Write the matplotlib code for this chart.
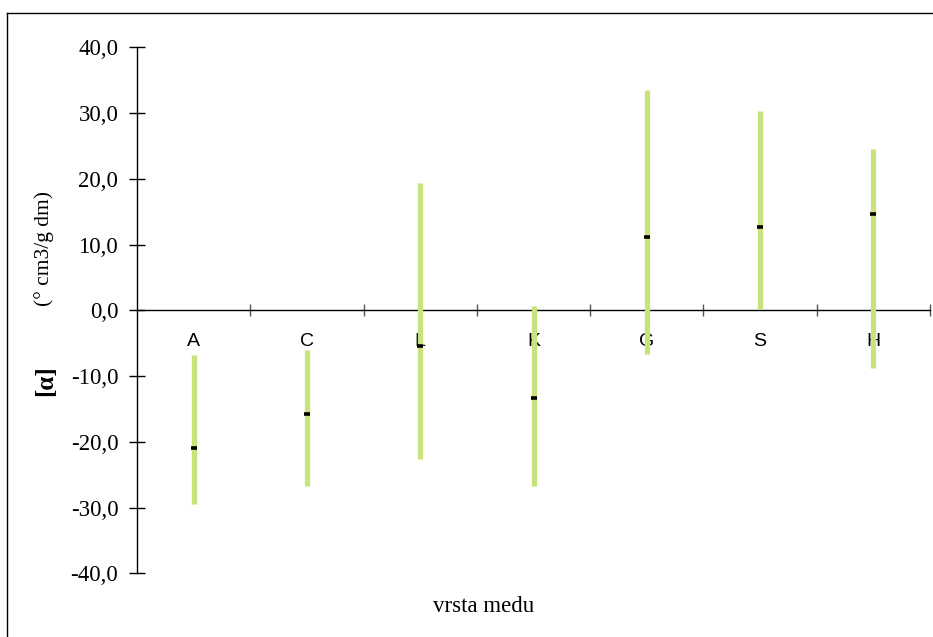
#!/usr/bin/env python3
import matplotlib.pyplot as plt
from matplotlib.lines import Line2D
from matplotlib.ticker import FuncFormatter, FixedLocator

categories = ["A", "C", "L", "K", "G", "S", "H"]
high = [-6.8, -6.0, 19.4, 0.65, 33.5, 30.3, 24.5]
low = [-29.4, -26.7, -22.6, -26.7, -6.6, 0.2, -8.7]
mean = [-20.9, -15.7, -5.4, -13.4, 11.2, 12.7, 14.7]
yticks = [-40, -30, -20, -10, 0, 10, 20, 30, 40]

serif = "Liberation Serif"
sans = "Liberation Sans"
green = "#c9e37b"

fig = plt.figure(figsize=(9.33, 6.37), dpi=100)
ax = fig.add_axes([137 / 933, 0.1, (930 - 137) / 933, 526 / 637])

x = range(len(categories))
for i, c in enumerate(categories):
    ax.text(i, -4.7, c, ha="center", va="center", fontsize=14,
            family=sans, zorder=1)
ax.vlines(x, low, high, color=green, lw=3.8, zorder=3)
ax.plot(x, mean, ls="none", marker="_", ms=5, mew=2.6, color="black", zorder=4)

ax.set_xlim(-0.5, len(categories) - 0.5)
ax.set_ylim(-40, 40)
ax.spines["top"].set_visible(False)
ax.spines["right"].set_visible(False)
ax.spines["bottom"].set_position(("data", 0))
ax.spines["bottom"].set_linewidth(1.0)
ax.spines["left"].set_linewidth(1.0)

ax.set_yticks(yticks)
ax.yaxis.set_major_formatter(FuncFormatter(lambda v, p: f"{v:.1f}".replace(".", ",")))
ax.tick_params(axis="y", direction="inout", length=11, width=1.0, pad=8,
               labelsize=16.5)
for lab in ax.get_yticklabels():
    lab.set_family(serif)

ax.xaxis.set_major_locator(FixedLocator([i + 0.5 for i in x]))
ax.tick_params(axis="x", direction="inout", length=9, width=1.0,
               color="#555555", labelbottom=False)

fig.text(44 / 933, 1 - 248 / 637, "(° cm3/g dm)", rotation=90, ha="center",
         va="center", fontsize=15.5, family=serif)
fig.text(46 / 933, 1 - 381 / 637, "[α]", rotation=90, ha="center",
         va="center", fontsize=18, fontweight="bold", family=serif)
fig.text(484 / 933, 1 - 607 / 637, "vrsta medu", ha="center", va="center",
         fontsize=16.5, family=serif)

fig.add_artist(Line2D([7 / 933, 7 / 933], [0, 1 - 13 / 637], color="black",
                      lw=1.0, transform=fig.transFigure))
fig.add_artist(Line2D([7 / 933, 1], [1 - 13 / 637, 1 - 13 / 637], color="black",
                      lw=1.0, transform=fig.transFigure))

fig.savefig("out.png", dpi=100)
